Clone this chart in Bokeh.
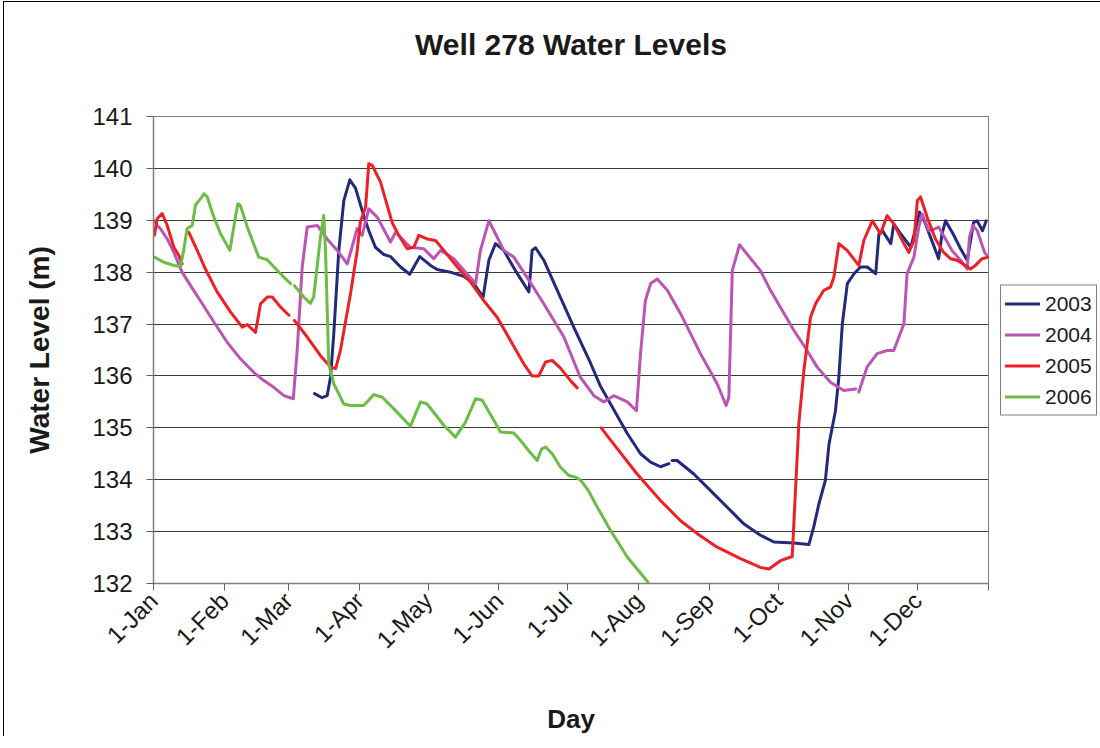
import math
from bokeh.plotting import figure
from bokeh.models import Range1d, FixedTicker, Legend, LegendItem, Title
from bokeh.embed import file_html
from bokeh.resources import INLINE

NaN = float("nan")

# ---- data (day of year, water level in m) ----
month_starts = [0, 31, 59, 90, 120, 151, 181, 212, 243, 273, 304, 334, 365]
month_labels = ["1-Jan", "1-Feb", "1-Mar", "1-Apr", "1-May", "1-Jun", "1-Jul",
                "1-Aug", "1-Sep", "1-Oct", "1-Nov", "1-Dec", ""]
y_ticks = [132, 133, 134, 135, 136, 137, 138, 139, 140, 141]

days_2003 = [70.4, 73.7, 75.9, 77.4, 78.8, 81.0, 83.2, 85.8, 88.3, 91.2, 94.1, 97.0,
             100.7, 103.6, 108.0, 112.0, 116.4, 121.1, 124.0, 129.8, 135.6, 140.0,
             144.1, 146.6, 149.5, 153.1, 158.2, 164.1, 165.5, 167.0, 170.6, 176.5,
             183.7, 191.0, 195.4, 199.8, 207.1, 212.9, 217.3, 221.6, 225.3, NaN,
             226.7, 228.9, 236.2, 243.5, 250.8, 258.0, 265.3, 271.2, 279.9, 286.5,
             288.6, 290.9, 293.7, 295.3, 298.1, 299.6, 301.1, 303.3, 306.2, 309.1,
             312.0, 315.7, 317.1, 318.6, 322.3, 323.6, 326.6, 331.0, 333.5, 334.8,
             336.6, 339.6, 343.2, 344.7, 346.2, 349.5, 352.8, 355.7, 358.5, 360.0,
             362.4, 364.0]
level_2003 = [135.66, 135.58, 135.62, 135.98, 136.81, 138.42, 139.38, 139.78, 139.62,
              139.19, 138.80, 138.48, 138.34, 138.30, 138.10, 137.96, 138.30, 138.13,
              138.05, 138.00, 137.92, 137.78, 137.52, 138.23, 138.55, 138.42, 138.03,
              137.62, 138.42, 138.47, 138.23, 137.65, 136.94, 136.25, 135.80, 135.46,
              134.89, 134.50, 134.34, 134.25, 134.31, NaN, 134.37, 134.37, 134.11,
              133.79, 133.47, 133.15, 132.93, 132.80, 132.78, 132.75, 133.09, 133.54,
              133.99, 134.69, 135.33, 135.98, 137.00, 137.78, 137.97, 138.10, 138.10,
              137.97, 138.74, 138.80, 138.55, 138.93, 138.74, 138.48, 138.90, 139.16,
              139.03, 138.68, 138.26, 138.74, 138.99, 138.74, 138.45, 138.23, 138.96,
              138.99, 138.80, 138.99]

days_2004 = [0.4, 1.6, 3.0, 6.0, 8.9, 12.5, 16.2, 20.5, 26.4, 32.2, 38.0, 43.8, 48.2,
             52.6, 57.0, 61.1, 62.8, 65.0, 67.2, 71.6, 75.9, 80.3, 84.7, 87.6, 89.0,
             91.2, 94.1, 97.8, 103.6, 105.8, 112.3, 118.2, 122.5, 125.5, 131.3, 136.4,
             140.8, 142.9, 146.6, 149.5, 153.1, 157.5, 163.3, 170.6, 179.4, 186.5,
             192.5, 196.8, 201.2, 207.1, 211.1, 212.9, 215.0, 217.3, 220.2, 224.6,
             230.4, 239.1, 246.4, 250.3, 251.5, 253.0, 256.2, 258.5, 265.3, 269.7,
             279.9, 285.7, 290.1, 295.9, 301.7, 306.9, NaN, 308.3, 311.9, 316.3, 320.7,
             323.6, 328.0, 329.4, 332.4, 334.5, 336.0, 338.9, 341.8, 343.2, 346.2,
             349.0, 352.8, 355.7, 356.7, 358.2, 360.1, 363.3, 364.8]
level_2004 = [138.99, 138.90, 138.84, 138.64, 138.38, 138.00, 137.74, 137.45, 137.04,
              136.65, 136.33, 136.07, 135.91, 135.78, 135.62, 135.56, 136.49, 138.10,
              138.87, 138.90, 138.64, 138.42, 138.16, 138.61, 138.84, 138.71, 139.22,
              139.06, 138.58, 138.77, 138.48, 138.45, 138.26, 138.42, 138.26, 138.00,
              137.78, 138.42, 138.99, 138.74, 138.42, 138.29, 137.90, 137.39, 136.75,
              135.98, 135.62, 135.50, 135.62, 135.50, 135.33, 136.43, 137.45, 137.78,
              137.87, 137.65, 137.20, 136.43, 135.85, 135.43, 135.59, 138.03, 138.53,
              138.40, 138.03, 137.65, 136.88, 136.49, 136.17, 135.88, 135.72, 135.75,
              NaN, 135.69, 136.17, 136.43, 136.49, 136.49, 137.00, 137.97, 138.29,
              138.87, 139.12, 138.80, 138.84, 138.87, 138.64, 138.42, 138.23, 138.06,
              138.68, 138.90, 138.80, 138.38, 138.30]

days_2005 = [0.4, 1.6, 3.8, 6.0, 8.9, 11.1, 12.5, NaN, 15.4, 19.1, 22.7, 27.8, 33.7,
             38.8, 41.0, 44.6, 46.8, 49.7, 51.9, 55.5, 59.2, NaN, 61.6, 67.2, 73.0,
             77.4, 79.6, 81.7, 86.1, 89.0, 90.4, 92.7, 94.1, 95.6, 99.2, 104.3, 107.2,
             110.9, 113.8, 116.0, 119.6, 123.3, 126.9, 132.8, 138.6, 144.4, 150.2,
             156.1, 161.9, 165.5, 168.4, 171.4, 174.3, 177.9, 182.3, 185.2, NaN, 195.7,
             202.7, 211.4, 221.6, 230.4, 237.7, 246.4, 256.6, 265.3, 269.0, 274.1,
             279.2, 279.9, 282.1, 284.3, 287.2, 289.4, 293.0, 295.9, 297.4, 299.6,
             303.2, 308.3, 310.5, 314.2, 317.8, 320.7, 323.6, 328.0, 330.2, 332.4,
             333.9, 335.3, 338.2, 341.8, 345.4, 348.4, 351.3, 354.9, 357.1, 359.3,
             362.2, 365.0]
level_2005 = [138.71, 139.03, 139.13, 138.90, 138.48, 138.32, 138.16, NaN, 138.77,
              138.42, 138.06, 137.62, 137.23, 136.94, 136.99, 136.84, 137.39, 137.52,
              137.52, 137.33, 137.17, NaN, 137.07, 136.75, 136.39, 136.17, 136.14,
              136.49, 137.58, 138.40, 138.96, 139.25, 140.09, 140.06, 139.74, 138.96,
              138.71, 138.45, 138.48, 138.71, 138.64, 138.61, 138.42, 138.10, 137.81,
              137.45, 137.13, 136.68, 136.23, 136.00, 136.00, 136.27, 136.30, 136.15,
              135.91, 135.77, NaN, 135.00, 134.60, 134.11, 133.60, 133.21, 132.96,
              132.70, 132.48, 132.31, 132.28, 132.44, 132.52, 133.15, 135.08, 136.11,
              137.13, 137.39, 137.65, 137.71, 137.90, 138.55, 138.42, 138.13, 138.61,
              138.99, 138.74, 139.09, 138.93, 138.55, 138.38, 138.61, 139.38, 139.45,
              139.06, 138.64, 138.38, 138.26, 138.23, 138.13, 138.06, 138.13, 138.26,
              138.29]

days_2006 = [0.4, 4.5, 8.9, 11.8, 13.2, 14.7, 16.9, 18.4, 20.5, 22.0, 23.5, 26.4,
             29.3, 33.4, 35.8, 36.9, 38.0, 41.0, 46.0, 49.7, 55.5, 59.9, NaN, 61.6,
             65.7, 68.6, 70.0, 73.0, 74.4, 75.2, 76.6, 78.8, 83.2, 86.1, 91.9, 96.3,
             100.0, 105.0, 112.3, 116.7, 119.6, 126.9, 132.0, 136.4, 140.8, 143.7,
             151.7, 157.5, 161.1, 164.0, 167.7, 169.6, 171.4, 174.3, 177.9, 181.6,
             184.5, 186.7, 190.0, 193.0, 199.8, 207.1, 216.1]
level_2006 = [138.29, 138.19, 138.13, 138.11, 138.42, 138.84, 138.90, 139.30, 139.41,
              139.51, 139.45, 139.06, 138.74, 138.42, 139.06, 139.32, 139.28, 138.87,
              138.29, 138.24, 137.97, 137.78, NaN, 137.74, 137.52, 137.40, 137.52,
              138.68, 139.09, 138.42, 136.23, 135.85, 135.46, 135.43, 135.43, 135.64,
              135.59, 135.37, 135.03, 135.50, 135.46, 135.05, 134.82, 135.11, 135.56,
              135.53, 134.92, 134.90, 134.72, 134.56, 134.37, 134.59, 134.63, 134.50,
              134.24, 134.08, 134.05, 133.99, 133.80, 133.55, 133.02, 132.51, 132.03]

series_names = ["2003", "2004", "2005", "2006"]
series_colors = ["#232a7c", "#bb55b4", "#ee2026", "#6cbd45"]

# ---- figure ----
FONT = "Liberation Sans"
p = figure(width=1092, height=740, frame_width=835, frame_height=467,
           min_border_left=149, min_border_right=10, min_border_top=114,
           min_border_bottom=150, x_range=Range1d(0, 365), y_range=Range1d(132, 141),
           output_backend="svg", toolbar_location=None)
p.styles = {"border-left": "1px solid #000000", "border-top": "1px solid #000000",
            "margin-left": "3px", "margin-top": "1px"}
p.background_fill_color = "white"
p.border_fill_color = "white"
p.outline_line_color = "#808080"
p.outline_line_width = 1

p.title.text = "Well 278 Water Levels"
p.title.align = "center"
p.title.text_font = FONT
p.title.text_font_size = "30px"
p.title.text_font_style = "bold"
p.title.text_color = "#1a1a1a"
p.title.standoff = 0
# blank spacer between the title and the plot area
p.add_layout(Title(text=" ", text_font_size="10px", standoff=43), "above")

p.xaxis.ticker = FixedTicker(ticks=month_starts)
p.xaxis.major_label_overrides = {d: lab for d, lab in zip(month_starts, month_labels)}
p.xaxis.major_label_orientation = math.pi / 4
p.yaxis.ticker = FixedTicker(ticks=y_ticks)
for ax in (p.xaxis[0], p.yaxis[0]):
    ax.axis_line_color = "#808080"
    ax.axis_line_width = 1.5
    ax.major_tick_line_color = "#606060"
    ax.major_tick_out = 7
    ax.major_tick_in = 0
    ax.minor_tick_line_color = None
    ax.major_label_text_font = FONT
    ax.major_label_text_font_size = "24px"
    ax.major_label_text_color = "#1a1a1a"
    ax.axis_label_text_font = FONT
    ax.axis_label_text_font_style = "bold"
    ax.axis_label_text_color = "#1a1a1a"
p.yaxis.major_label_standoff = 14
p.xaxis.major_label_standoff = 6
p.yaxis.axis_label = "Water Level (m)"
p.yaxis.axis_label_text_font_size = "28px"
p.yaxis.axis_label_standoff = 34
p.xaxis.axis_label = "Day"
p.xaxis.axis_label_text_font_size = "26px"
p.xaxis.axis_label_standoff = 38

p.xgrid.grid_line_color = None
p.ygrid.ticker = FixedTicker(ticks=y_ticks)
p.ygrid.grid_line_color = "#3a3a3a"
p.ygrid.grid_line_width = 1

renderers = []
for d, v, c in zip([days_2003, days_2004, days_2005, days_2006],
                   [level_2003, level_2004, level_2005, level_2006], series_colors):
    r = p.line(d, v, line_color=c, line_width=3, line_join="round", line_cap="round")
    renderers.append(r)

legend = Legend(items=[LegendItem(label=n, renderers=[r]) for n, r in zip(series_names, renderers)],
                location="left")
legend.label_text_font = FONT
legend.label_text_font_size = "21px"
legend.label_text_color = "#1a1a1a"
legend.glyph_width = 35
legend.glyph_height = 28
legend.label_height = 28
legend.spacing = 3
legend.padding = 4
legend.margin = 12
legend.label_standoff = 5
legend.border_line_color = "black"
legend.border_line_width = 1
legend.background_fill_color = "white"
legend.background_fill_alpha = 1.0
p.add_layout(legend, "right")

open("out.html", "w").write(file_html(p, INLINE))
